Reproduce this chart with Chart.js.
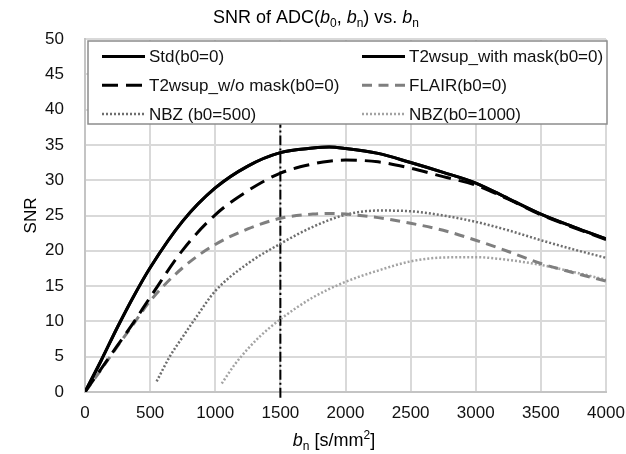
<!DOCTYPE html>
<html>
<head>
<meta charset="utf-8">
<script src="https://cdn.jsdelivr.net/npm/chart.js@4.4.1/dist/chart.umd.min.js"></script>
<style>
  html, body { margin: 0; padding: 0; background: #fff; }
  #wrap { width: 626px; height: 454px; position: relative; }
</style>
</head>
<body>
<div id="wrap"><canvas id="chart" width="626" height="454"></canvas></div>
<script>
// b-values [s/mm2] and SNR
const bGrid = [0, 125, 250, 375, 500, 750, 1000, 1250, 1500, 1750, 1875, 2000, 2250, 2500, 2750, 3000, 3250, 3500, 3750, 4000];
const snrStd = [0, 4.5, 9.2, 13.6, 17.6, 24.2, 28.9, 32.0, 33.9, 34.55, 34.7, 34.5, 33.8, 32.5, 31.1, 29.6, 27.4, 25.2, 23.4, 21.7];
const snrT2Mask = [0, 4.5, 9.2, 13.6, 17.6, 24.2, 28.9, 32.0, 33.9, 34.55, 34.7, 34.5, 33.8, 32.5, 31.1, 29.6, 27.4, 25.2, 23.4, 21.7];
const snrT2NoMask = [0, 3.3, 6.6, 9.9, 13.4, 20.1, 25.1, 28.5, 31.0, 32.3, 32.7, 32.85, 32.6, 31.7, 30.5, 29.3, 27.3, 25.1, 23.3, 21.6];
const snrFlair = [0, 3.2, 6.5, 9.7, 12.9, 17.6, 20.9, 23.1, 24.6, 25.2, 25.3, 25.2, 24.7, 23.9, 22.9, 21.5, 19.9, 18.2, 16.9, 15.7];

const bNbz500 = [550, 650, 750, 850, 1000, 1250, 1500, 1750, 2000, 2250, 2500, 2750, 3000, 3250, 3500, 3750, 4000];
const snrNbz500 = [1.5, 5.0, 7.8, 10.5, 14.3, 18.2, 21.0, 23.4, 25.1, 25.7, 25.6, 25.0, 24.1, 22.9, 21.5, 20.2, 19.0];

const bNbz1000 = [1050, 1150, 1250, 1350, 1500, 1750, 2000, 2250, 2500, 2750, 3000, 3250, 3500, 3750, 4000];
const snrNbz1000 = [1.2, 3.9, 6.1, 8.0, 10.3, 13.4, 15.6, 17.2, 18.5, 19.05, 19.1, 18.7, 18.0, 17.0, 15.9];

const bMarker = [1500, 1500];
const snrMarker = [-0.8, 49];

const xMin = 0, xMax = 4000, xStep = 500;
const yMin = 0, yMax = 50, yStep = 5;

const FONT = "'Liberation Sans', Arial, sans-serif";

const zip = (xs, ys) => xs.map((x, i) => ({ x, y: ys[i] }));

function curve(label, xs, ys, color, width, dash) {
  return {
    label,
    data: zip(xs, ys),
    borderColor: color,
    backgroundColor: color,
    borderWidth: width,
    borderDash: dash,
    pointRadius: 0,
    cubicInterpolationMode: "monotone",
    fill: false
  };
}

const datasets = [
  curve("Std(b0=0)", bGrid, snrStd, "#000000", 3, []),
  curve("T2wsup_with mask(b0=0)", bGrid, snrT2Mask, "#000000", 3, []),
  curve("T2wsup_w/o mask(b0=0)", bGrid, snrT2NoMask, "#000000", 3, [16, 8]),
  curve("FLAIR(b0=0)", bGrid, snrFlair, "#7f7f7f", 3, [10, 6.5]),
  curve("NBZ (b0=500)", bNbz500, snrNbz500, "#6e6e6e", 2.5, [2, 2]),
  curve("NBZ(b0=1000)", bNbz1000, snrNbz1000, "#a3a3a3", 2.5, [2, 2]),
  Object.assign(curve("marker", bMarker, snrMarker, "#000000", 2, [10, 3, 2, 3]), { clip: false, inLegend: false })
];

// draws a run of text pieces, some italic / sub / superscript
function drawRich(ctx, parts, x, y, size, align) {
  const fontOf = (p) => {
    const s = p.sub || p.sup ? Math.round(size * 0.65) : size;
    return (p.italic ? "italic " : "") + s + "px " + FONT;
  };
  let total = 0;
  parts.forEach((p) => { ctx.font = fontOf(p); total += ctx.measureText(p.t).width; });
  let cx = align === "center" ? x - total / 2 : x;
  ctx.textBaseline = "alphabetic";
  ctx.textAlign = "left";
  parts.forEach((p) => {
    ctx.font = fontOf(p);
    let dy = 0;
    if (p.sub) dy = size * 0.22;
    if (p.sup) dy = -size * 0.38;
    ctx.fillText(p.t, cx, y + dy);
    cx += ctx.measureText(p.t).width;
  });
}

const textPlugin = {
  id: "texts",
  afterDraw(chart) {
    const ctx = chart.ctx;
    const area = chart.chartArea;
    ctx.save();
    ctx.fillStyle = "#000";
    drawRich(ctx, [
      { t: "SNR of ADC(" }, { t: "b", italic: true }, { t: "0", sub: true },
      { t: ", " }, { t: "b", italic: true }, { t: "n", sub: true },
      { t: ") vs. " }, { t: "b", italic: true }, { t: "n", sub: true }
    ], 316, 23, 18, "center");

    drawRich(ctx, [
      { t: "b", italic: true }, { t: "n", sub: true }, { t: " [s/mm" }, { t: "2", sup: true }, { t: "]" }
    ], 334, 446, 18, "center");

    ctx.translate(31, (area.top + area.bottom) / 2);
    ctx.rotate(-Math.PI / 2);
    ctx.font = "17px " + FONT;
    ctx.textAlign = "center";
    ctx.textBaseline = "middle";
    ctx.fillText("SNR", 0, 0);
    ctx.restore();
  }
};

const legendPlugin = {
  id: "boxLegend",
  afterDraw(chart) {
    const ctx = chart.ctx;
    const area = chart.chartArea;
    const left = area.left + 3, right = area.right + 1;
    const top = area.top + 2, bottom = top + 83;
    ctx.save();
    ctx.fillStyle = "#fff";
    ctx.fillRect(left, top, right - left, bottom - top);
    ctx.strokeStyle = "#8c8c8c";
    ctx.lineWidth = 1.5;
    ctx.strokeRect(left, top, right - left, bottom - top);

    const colX = [left + 14, left + 274];
    const rowY = [top + 15.5, top + 44.3, top + 73];
    const items = chart.data.datasets.filter((d) => d.inLegend !== false);
    items.forEach((d, i) => {
      const x0 = colX[i % 2];
      const y0 = rowY[Math.floor(i / 2)];
      ctx.beginPath();
      ctx.setLineDash(d.borderDash || []);
      ctx.strokeStyle = d.borderColor;
      ctx.lineWidth = d.borderWidth;
      ctx.moveTo(x0, y0);
      ctx.lineTo(x0 + 43, y0);
      ctx.stroke();
      ctx.setLineDash([]);
      ctx.fillStyle = "#111";
      ctx.font = "17px " + FONT;
      ctx.textAlign = "left";
      ctx.textBaseline = "middle";
      ctx.fillText(d.label, x0 + 47, y0 + 1);
    });
    ctx.restore();
  }
};

new Chart(document.getElementById("chart"), {
  type: "line",
  data: { datasets },
  plugins: [textPlugin, legendPlugin],
  options: {
    responsive: false,
    animation: false,
    layout: { padding: { top: 39, right: 20, left: 0, bottom: 0 } },
    plugins: { legend: { display: false }, tooltip: { enabled: false }, title: { display: false } },
    scales: {
      x: {
        type: "linear",
        min: xMin, max: xMax,
        afterFit: (s) => { s.height = 62; s.paddingLeft = 0; s.paddingRight = 0; },
        ticks: { stepSize: xStep, color: "#111", padding: 11, maxRotation: 0, font: { family: FONT, size: 17 }, callback: (v) => String(v) },
        grid: { color: "#d9d9d9", lineWidth: 2, drawTicks: false },
        border: { color: "#c4c4c4", width: 2 }
      },
      y: {
        min: yMin, max: yMax,
        afterFit: (s) => { s.width = 85; s.paddingTop = 0; s.paddingBottom = 0; },
        ticks: { stepSize: yStep, color: "#111", padding: 21, font: { family: FONT, size: 17 } },
        grid: { color: "#d9d9d9", lineWidth: 2, drawTicks: false },
        border: { color: "#c4c4c4", width: 2 }
      }
    }
  }
});
</script>
</body>
</html>
